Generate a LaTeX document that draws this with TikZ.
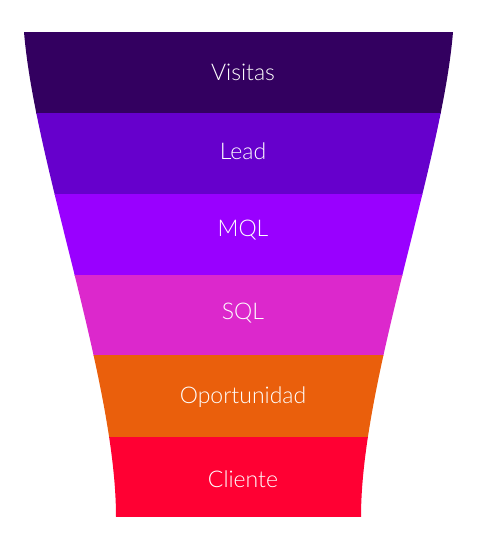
\documentclass[tikz,border=0pt]{standalone}
\usepackage{fontspec}
\setmainfont{Lato}[UprightFont=* Light]
\definecolor{cvisitas}{HTML}{330060}
\definecolor{clead}{HTML}{6600CC}
\definecolor{cmql}{HTML}{9900FF}
\definecolor{csql}{HTML}{DC28CC}
\definecolor{copor}{HTML}{EA5F0C}
\definecolor{ccliente}{HTML}{FF0033}

\begin{document}
\begin{tikzpicture}[x=1pt, y=-1pt, label/.style={text=white, font=\fontsize{23}{27}\selectfont}]
    \useasboundingbox (0,0) rectangle (487,543);
    %\draw[red] (24,32) -- (453,32);
    \begin{scope}
    \clip (24,32) .. controls (35,165) and (116,380) .. (116,517) -- (361,517) .. controls (361,380) and (442,165) .. (453,32) -- cycle;
    \fill[cvisitas] (0,32) rectangle (487,113.5);
    \fill[clead] (0,113) rectangle (487,194.5);
    \fill[cmql] (0,194) rectangle (487,275.5);
    \fill[csql] (0,275) rectangle (487,355.5);
    \fill[copor] (0,355) rectangle (487,437.5);
    \fill[ccliente] (0,437) rectangle (487,517);
    \end{scope}
    \node[label] (visitas) at (243,72) {Visitas};
    \node[label] (lead) at (243,151) {Lead};
    \node[label] (mql) at (243,230) {MQL};
    \node[label] (sql) at (243,313) {SQL};
    \node[label] (opor) at (243,397) {Oportunidad};
    \node[label] (cliente) at (243,479) {Cliente};
\end{tikzpicture}
\end{document}
